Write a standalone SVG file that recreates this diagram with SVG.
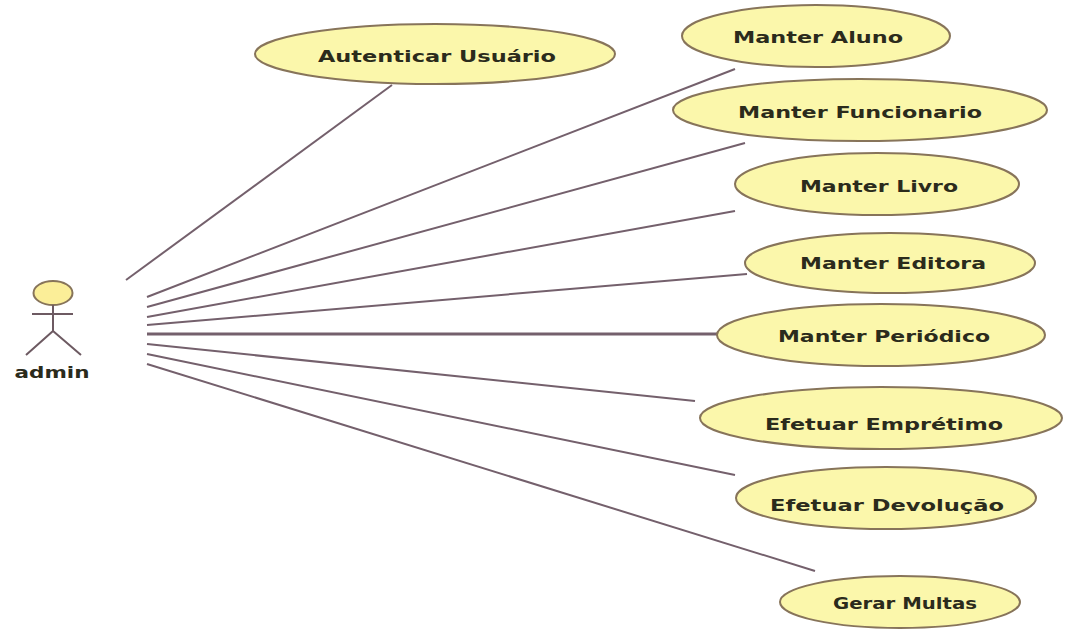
<svg xmlns="http://www.w3.org/2000/svg" width="1065" height="631" viewBox="0 0 1065 631">
<defs><style>
.uc{fill:#fbf7ab;stroke:#87745a;stroke-width:2}
.t{font-family:"DejaVu Sans",sans-serif;font-weight:bold;font-size:16.500px;fill:#2b2b1c;text-anchor:middle}
.c line{stroke:#74606c;stroke-width:2;fill:none}
.a{stroke:#6d5a62;stroke-width:2;fill:none}
</style></defs>
<rect width="1065" height="631" fill="#ffffff"/>
<g id="connectors" class="c">
<line x1="126" y1="280" x2="392" y2="85"/>
<line x1="147" y1="297" x2="735" y2="69"/>
<line x1="147" y1="307" x2="745" y2="143"/>
<line x1="147" y1="317" x2="735" y2="211"/>
<line x1="147" y1="325" x2="747" y2="274"/>
<line x1="147" y1="334" x2="718" y2="334" style="stroke-width:3"/>
<line x1="147" y1="344" x2="695" y2="401"/>
<line x1="147" y1="354" x2="735" y2="475"/>
<line x1="147" y1="364" x2="815" y2="571"/>
</g>
<g id="actor-admin">
<ellipse cx="53" cy="293" rx="19.500" ry="12" fill="#fbee98" stroke="#87745a" stroke-width="2"/>
<path class="a" d="M53 305V331M32 314H73M53 331L26 355M53 331L81 355"/>
<text class="t" x="52" y="378" textLength="75" lengthAdjust="spacingAndGlyphs">admin</text>
</g>
<g id="uc-autenticar"><ellipse class="uc" cx="435" cy="54" rx="180" ry="30"/><text class="t" x="437" y="62" textLength="238" lengthAdjust="spacingAndGlyphs">Autenticar Usuário</text></g>
<g id="uc-aluno"><ellipse class="uc" cx="816" cy="36" rx="134" ry="31"/><text class="t" x="818" y="43" textLength="170" lengthAdjust="spacingAndGlyphs">Manter Aluno</text></g>
<g id="uc-funcionario"><ellipse class="uc" cx="860" cy="110" rx="187" ry="31"/><text class="t" x="860" y="118" textLength="244" lengthAdjust="spacingAndGlyphs">Manter Funcionario</text></g>
<g id="uc-livro"><ellipse class="uc" cx="877" cy="184" rx="142" ry="31"/><text class="t" x="879" y="192" textLength="158" lengthAdjust="spacingAndGlyphs">Manter Livro</text></g>
<g id="uc-editora"><ellipse class="uc" cx="890" cy="263" rx="145" ry="30"/><text class="t" x="893" y="269" textLength="186" lengthAdjust="spacingAndGlyphs">Manter Editora</text></g>
<g id="uc-periodico"><ellipse class="uc" cx="881" cy="335" rx="164" ry="31"/><text class="t" x="884" y="342" textLength="212" lengthAdjust="spacingAndGlyphs">Manter Periódico</text></g>
<g id="uc-emprestimo"><ellipse class="uc" cx="881" cy="418" rx="181" ry="31"/><text class="t" x="884" y="430" textLength="238" lengthAdjust="spacingAndGlyphs">Efetuar Emprétimo</text></g>
<g id="uc-devolucao"><ellipse class="uc" cx="886" cy="498" rx="150" ry="31"/><text class="t" x="887" y="511" textLength="234" lengthAdjust="spacingAndGlyphs">Efetuar Devolução</text></g>
<g id="uc-multas"><ellipse class="uc" cx="900" cy="602" rx="120" ry="26"/><text class="t" x="905" y="609" textLength="144" lengthAdjust="spacingAndGlyphs">Gerar Multas</text></g>
</svg>
